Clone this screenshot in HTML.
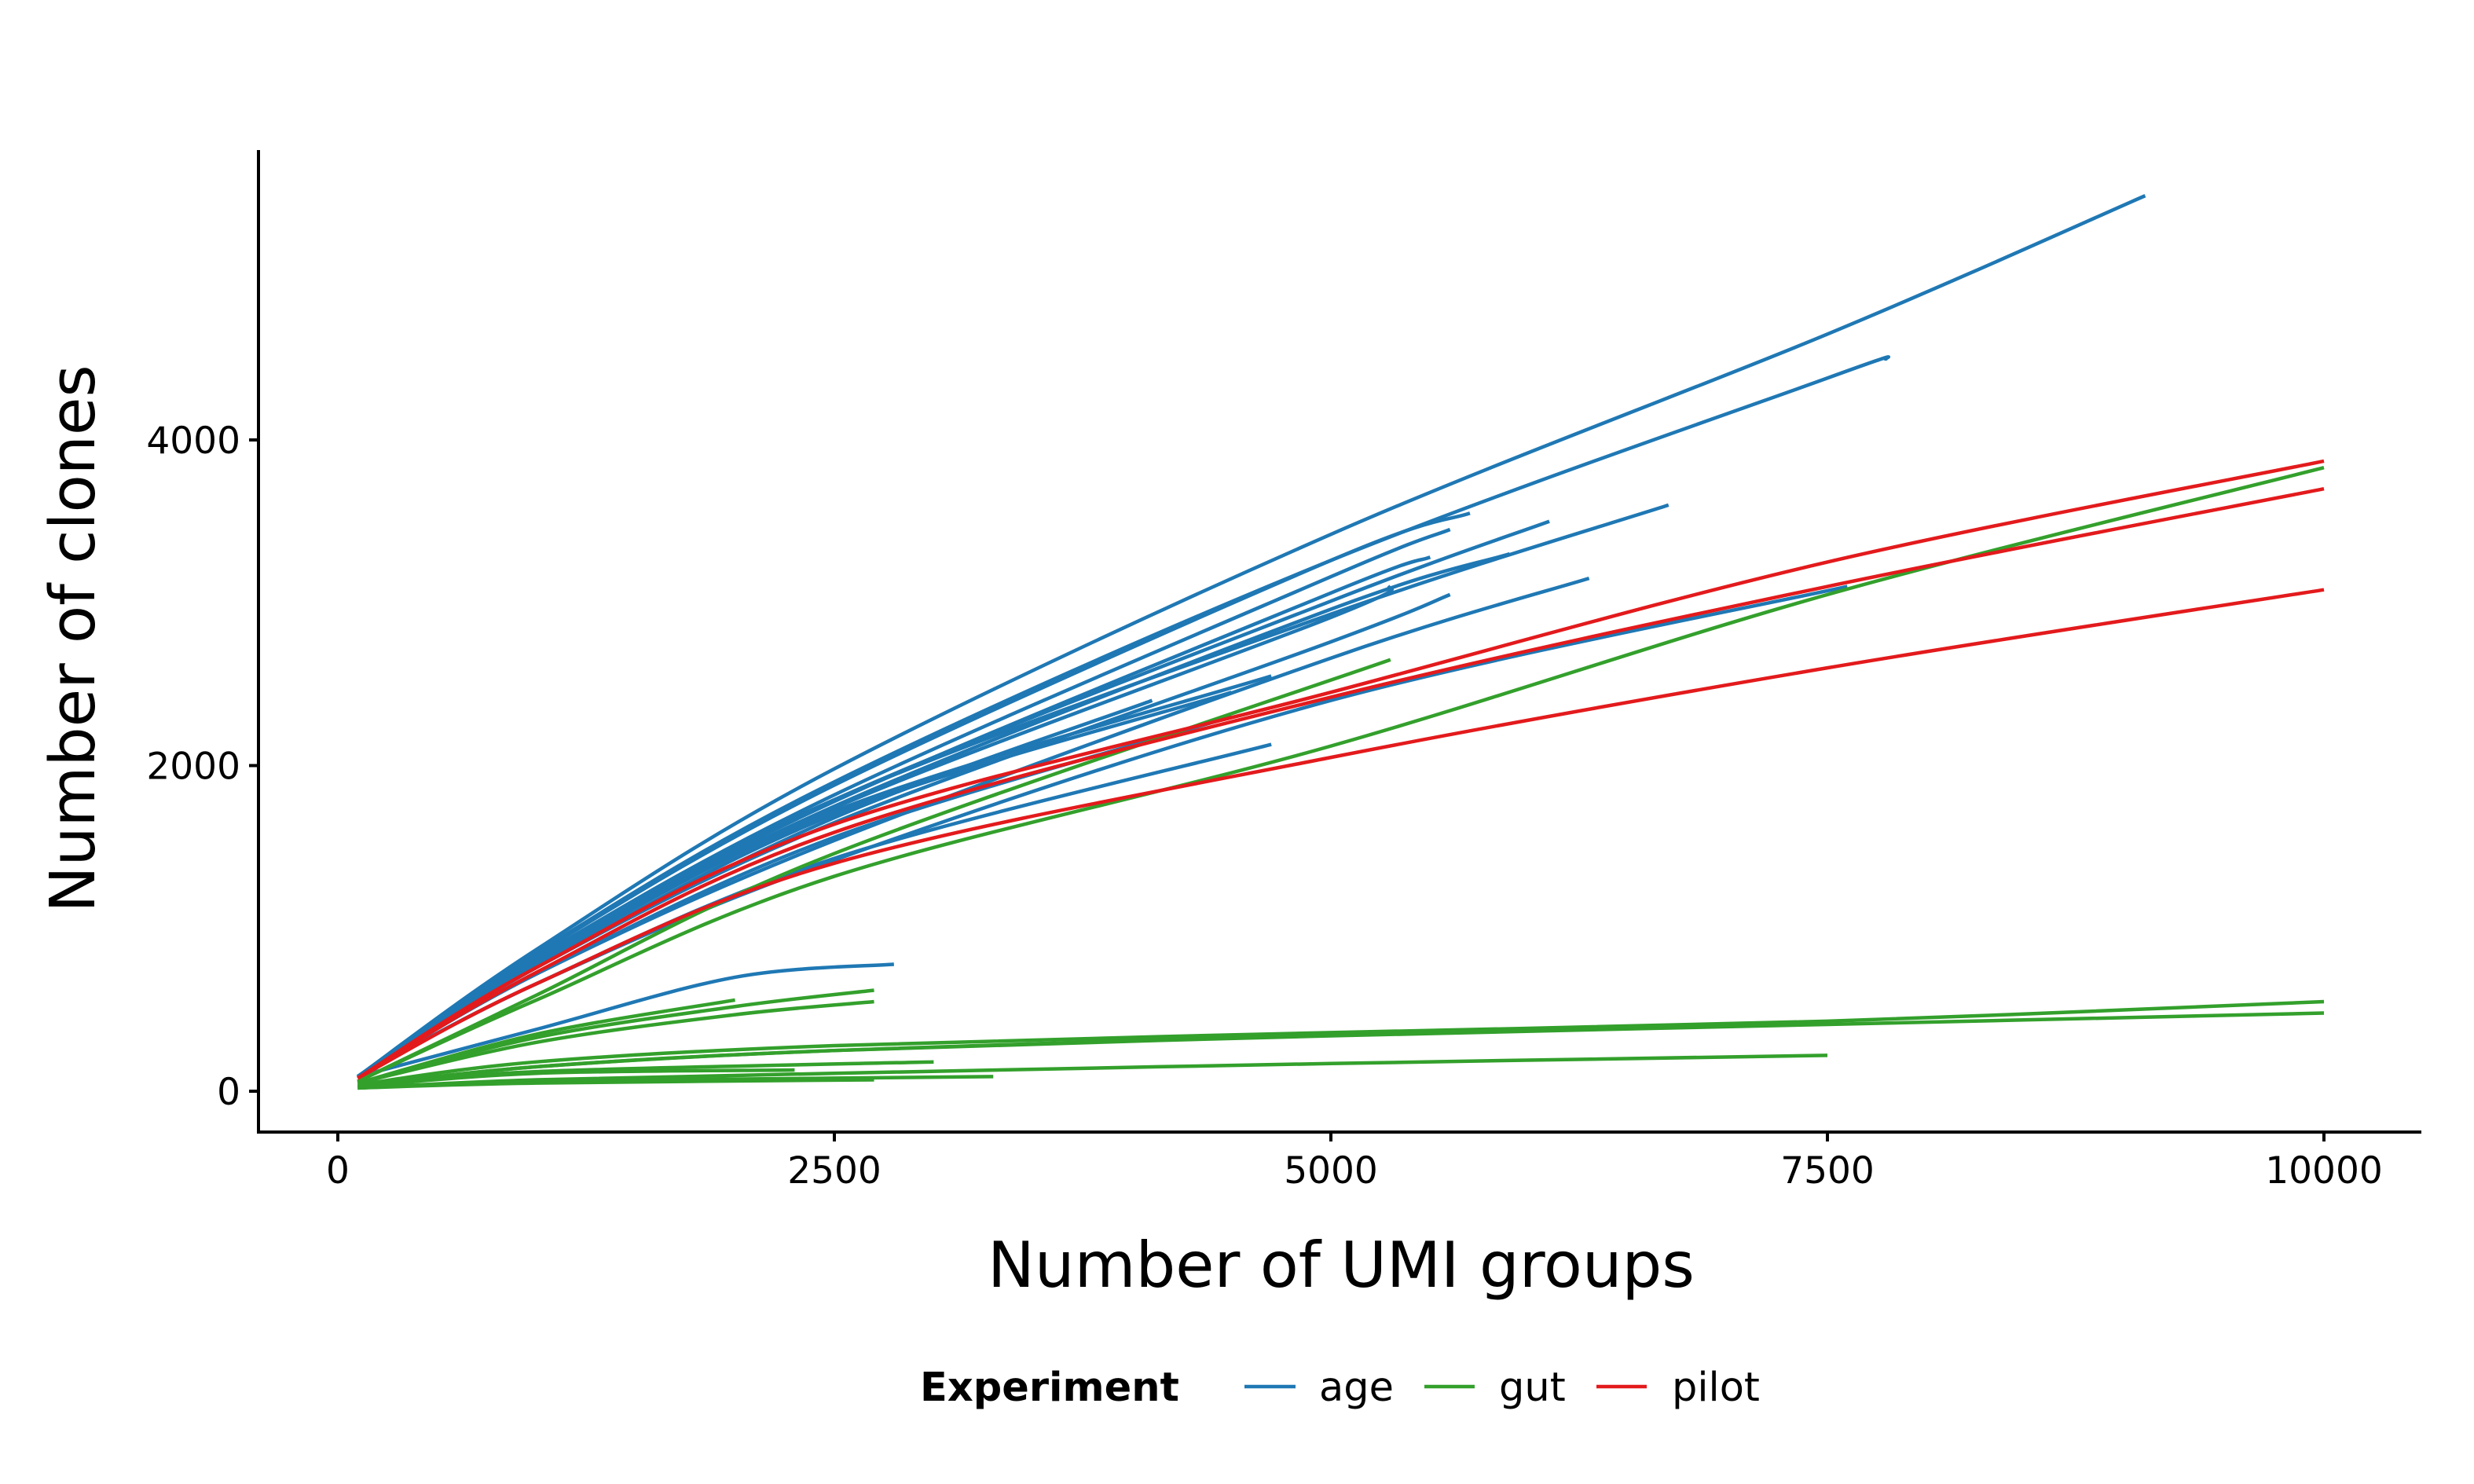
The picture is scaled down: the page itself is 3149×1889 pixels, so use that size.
<!DOCTYPE html>
<html><head><meta charset="utf-8">
<style>
html,body{margin:0;padding:0;background:#fff;}
svg{display:block;font-family:"DejaVu Sans","Liberation Sans",sans-serif;}
</style></head>
<body>
<svg id="chart" width="3149" height="1889" viewBox="0 0 3149 1889" xmlns="http://www.w3.org/2000/svg">
<rect width="3149" height="1889" fill="#fff"/>
<g id="lines"></g>
<g id="axes"></g>
<text x="1707" y="1638" font-size="80" text-anchor="middle" fill="#000">Number of UMI groups</text>
<text transform="translate(120,813) rotate(-90)" font-size="79" text-anchor="middle" fill="#000">Number of clones</text>
<g>
<text x="1171" y="1783" font-size="51" font-weight="bold">Experiment</text>
<line x1="1584" y1="1765" x2="1649" y2="1765" stroke="#1f78b4" stroke-width="4.5"/>
<text x="1679" y="1783" font-size="51">age</text>
<line x1="1813" y1="1765" x2="1877" y2="1765" stroke="#33a02c" stroke-width="4.5"/>
<text x="1908" y="1783" font-size="51">gut</text>
<line x1="2032" y1="1765" x2="2096" y2="1765" stroke="#e31a1c" stroke-width="4.5"/>
<text x="2128" y="1783" font-size="51">pilot</text>
</g>
</svg>
<script>
const xTicks = [0, 2500, 5000, 7500, 10000];
const yTicks = [0, 2000, 4000];
const xTickLabels = ["0", "2500", "5000", "7500", "10000"];
const yTickLabels = ["0", "2000", "4000"];
const groups = ["age", "gut", "pilot"];
const colors = {age: "#1f78b4", gut: "#33a02c", pilot: "#e31a1c"};
const X6 = [100, 1000, 2500, 5000, 7500, 10000];
const seriesGroup = ["age","age","age","age","age","age","age","age","age","age","age","age","age","age","age","age","age","age",
  "pilot","pilot","pilot",
  "gut","gut","gut","gut","gut","gut","gut","gut","gut","gut","gut","gut","gut"];
const seriesX = [
  [100,1000,2500,5000,7500,9100],[100,1000,2500,5000,7500,7800],[100,1000,2500,5000,6700],[100,1000,2500,5000,6100],
  [100,1000,2500,5000,5700],[100,1000,2500,5000,5600],[100,1000,2500,5000,5900],[100,1000,2500,5000,5500],
  [100,1000,2500,5000,5300],[100,1000,2500,5000,5600],[100,1000,2500,5000,6300],[100,1000,2500,5000,7600],
  [100,1000,2500,4700],[100,1000,2500,4500],[100,1000,2500,4100],[100,1000,2500,4500],[100,1000,2500,4700],[100,1000,2000,2800],
  X6, X6, X6,
  X6,[100,1000,2500,5300],X6,X6,[100,1000,2500,5000,7500],[100,1000,2000,2700],[100,1000,2000,2700],[100,1000,2000],
  [100,1000,2500,5300],[100,1000,2500,3300],[100,1000,3000],[100,1000,2700],[100,1000,2300]
];
const seriesY = [
  [90,870,1980,3420,4650,5500],[90,850,1900,3260,4380,4500],[90,810,1790,2930,3600],[90,820,1790,3010,3500],
  [90,840,1880,3260,3550],[90,820,1820,3160,3450],[90,800,1750,2960,3300],[90,810,1780,3060,3280],
  [90,790,1740,2910,3100],[90,760,1650,2760,3050],[90,720,1540,2660,3150],[90,660,1420,2400,3100],
  [90,780,1720,2550],[90,760,1700,2450],[90,760,1680,2400],[90,720,1560,2300],[90,660,1430,2130],[90,380,700,780],
  [80,760,1640,2450,3250,3870],[80,730,1590,2420,3100,3700],[80,660,1400,2050,2600,3080],
  [60,560,1320,2120,3050,3830],[60,590,1460,2650],[40,180,280,360,430,550],[30,150,250,340,410,480],[20,70,110,170,220],
  [50,330,520,620],[50,300,470,550],[50,350,560],[30,150,250,360],[20,60,80,90],[30,120,180],[20,50,70],[30,110,130]
];
const X0 = 430, XK = (2958 - 430) / 10000;
const Y0 = 1389, YK = (1389 - 560) / 4000;
function sx(v){ return X0 + v * XK; }
function sy(v){ return Y0 - v * YK; }
const NS = "http://www.w3.org/2000/svg";
function pathFor(xs, ys){
  const p = xs.map((x,i)=>[sx(x), sy(ys[i])]);
  let d = "M" + p[0][0] + "," + p[0][1];
  for (let i = 0; i < p.length - 1; i++){
    const p0 = p[i-1] || p[i], p1 = p[i], p2 = p[i+1], p3 = p[i+2] || p[i+1];
    const c1 = [p1[0] + (p2[0]-p0[0])/6, p1[1] + (p2[1]-p0[1])/6];
    const c2 = [p2[0] - (p3[0]-p1[0])/6, p2[1] - (p3[1]-p1[1])/6];
    d += " C" + c1[0] + "," + c1[1] + " " + c2[0] + "," + c2[1] + " " + p2[0] + "," + p2[1];
  }
  return d;
}
const lg = document.getElementById("lines");
const order = [];
seriesGroup.forEach((g,i)=>{ if(g==="age") order.push(i); });
seriesGroup.forEach((g,i)=>{ if(g==="gut") order.push(i); });
seriesGroup.forEach((g,i)=>{ if(g==="pilot") order.push(i); });
order.forEach(i=>{
  const el = document.createElementNS(NS, "path");
  el.setAttribute("d", pathFor(seriesX[i], seriesY[i]));
  el.setAttribute("fill", "none");
  el.setAttribute("stroke", colors[seriesGroup[i]]);
  el.setAttribute("stroke-width", "4.5");
  
  
  lg.appendChild(el);
});
const ax = document.getElementById("axes");
function add(tag, attrs, text){
  const el = document.createElementNS(NS, tag);
  for (const k in attrs) el.setAttribute(k, attrs[k]);
  if (text !== undefined) el.textContent = text;
  ax.appendChild(el);
  return el;
}
const yl = add("line", {x1:329, y1:191, x2:329, y2:1443, stroke:"#000", "stroke-width":4});


const xl = add("line", {x1:327, y1:1441, x2:3082, y2:1441, stroke:"#000", "stroke-width":4});


xTicks.forEach((v,i)=>{
  const t = add("line", {x1:sx(v), y1:1441, x2:sx(v), y2:1453, stroke:"#000", "stroke-width":4});
  
  
  const l = add("text", {x:sx(v), y:1506, "font-size":47, "text-anchor":"middle", fill:"#000"}, xTickLabels[i]);
  
  
});
yTicks.forEach((v,i)=>{
  const t = add("line", {x1:317, y1:sy(v), x2:329, y2:sy(v), stroke:"#000", "stroke-width":4});
  
  
  const l = add("text", {x:306, y:sy(v)+17, "font-size":47, "text-anchor":"end", fill:"#000"}, yTickLabels[i]);
  
  
});
</script>
</body></html>
